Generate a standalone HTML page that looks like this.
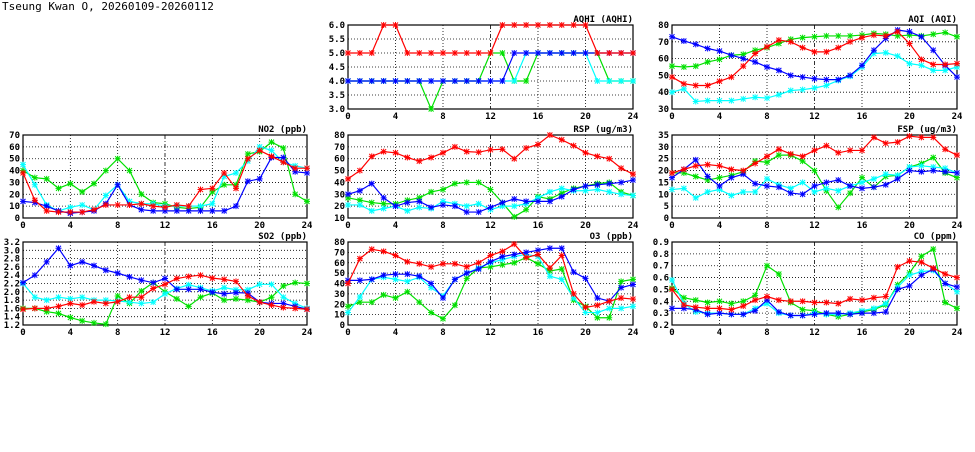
<!DOCTYPE html>
<html><head><meta charset="utf-8">
<style>
body{margin:0;background:#fff;width:975px;height:447px;overflow:hidden}
svg text{font-family:"DejaVu Sans Mono","Liberation Mono",monospace;font-weight:bold;font-size:9px;fill:#000}
</style></head><body>
<svg id="s" width="975" height="447" xmlns="http://www.w3.org/2000/svg">
<text x="2" y="10" style="font-size:11px;font-weight:normal">Tseung Kwan O, 20260109-20260112</text>
</svg>
<script>
const S=document.getElementById('s');let h='';
const cols=[[23,307],[348,633],[672,957]];
const rows=[[25,109],[135,218],[242,325]];
function P(c,r,title,ymin,ymax,step,dec,series){
 const [x0,x1]=cols[c],[y0,y1]=rows[r];
 const X=i=>x0+(x1-x0)*i/24, Y=v=>y1-(y1-y0)*(v-ymin)/(ymax-ymin);
 let n=Math.round((ymax-ymin)/step);
 for(let k=0;k<=n;k++){const v=ymin+k*step,y=Y(v);
  if(k>0&&k<n)h+=`<line x1="${x0}" x2="${x1}" y1="${y}" y2="${y}" stroke="#000" stroke-width="0.8" stroke-dasharray="1,2"/>`;
  h+=`<text x="${x0-3}" y="${y+3}" text-anchor="end">${v.toFixed(dec)}</text>`;}
 for(let i=0;i<=24;i+=4){const x=X(i);
  if(i>0&&i<24)h+=`<line x1="${x}" x2="${x}" y1="${y0}" y2="${y1}" stroke="#000" stroke-width="0.8" stroke-dasharray="${i==12?'4,2,1,2':'1,2'}"/>`;
  h+=`<text x="${x}" y="${y1+10}" text-anchor="middle">${i}</text>`;}
 h+=`<rect x="${x0}" y="${y0}" width="${x1-x0}" height="${y1-y0}" fill="none" stroke="#000" stroke-width="1.2"/>`;
 h+=`<text x="${x1}" y="${y0-3}" text-anchor="end">${title}</text>`;
 const col={g:'#00e000',c:'#00ffff',b:'#0000ff',r:'#ff0000'};
 for(const k of ['g','c','b','r']){const d=series[k];if(!d)continue;
  const pts=d.map((v,i)=>[X(i),Y(v)]);
  h+=`<polyline points="${pts.map(p=>p.join(',')).join(' ')}" fill="none" stroke="${col[k]}" stroke-width="1.2"/>`;
  for(const [x,y] of pts){h+=`<path d="M${x-2.5},${y-2.5}L${x+2.5},${y+2.5}M${x-2.5},${y+2.5}L${x+2.5},${y-2.5}M${x-3},${y}L${x+3},${y}M${x},${y-3}L${x},${y+3}" stroke="${col[k]}" stroke-width="1"/>`;}
 }
}
P(1,0,'AQHI (AQHI)',3,6,0.5,1,{
 g:[4,4,4,4,4,4,4,3,4,4,4,4,5,5,4,4,5,5,5,5,5,5,4,4,4],
 c:[4,4,4,4,4,4,4,4,4,4,4,4,4,4,4,5,5,5,5,5,5,4,4,4,4],
 b:[4,4,4,4,4,4,4,4,4,4,4,4,4,4,5,5,5,5,5,5,5,5,5,5,5],
 r:[5,5,5,6,6,5,5,5,5,5,5,5,5,6,6,6,6,6,6,6,6,5,5,5,5]});
P(2,0,'AQI (AQI)',30,80,10,0,{
 b:[73,70.5,68.5,66,64.5,62,60,58,55,53,50,49,48,47.5,47.5,50,56,65,72,77,76,73,65,56,49],
 r:[49,45,44,44,46.5,49,55.5,63,67,71,70,66.5,64,64,66.5,70,72.5,74,73.5,76,69,59.5,56.5,56.5,57],
 g:[55.5,55,55.5,58,59.5,62,62.5,65,66.5,69,71.5,72.5,73,73.5,73.5,73.5,74,75,74.5,73.5,74,73.5,74.5,75.5,73],
 c:[40,42,34.5,35,35,35,36,37,36.5,38.5,41,41.5,42.5,44,47,49.5,55,63,63.5,61.5,57,56,53,53,55]});
P(0,1,'NO2 (ppb)',0,70,10,0,{
 g:[40,34,33,25,29,22,29,40,50,40,20,13,12,9,8,9,22,28,28,54,56,64,59,20,14],
 c:[45,28,11,6,9,11,7,19,28,14,12,12,10,10,10,10,12,35,38,48,60,57,47,44,42],
 r:[38,15,6,5,5,5,7,11,11,11,12,10,9,11,10,24,25,38,25,50,57,52,47,42,42],
 b:[14,13,10,6,4,5,6,12,28,11,7,6,6,6,6,6,6,6,10,31,33,51,51,39,38]});
P(1,1,'RSP (ug/m3)',10,80,10,0,{
 r:[43,50,62,66,65,61,58,61,65,70,66,65.5,67.5,68,60,69,72,80,76,71,65,62,60,52,47],
 g:[27,25,23,22,22,25,27,32,34,39,40,40,34,23,11,17,28,26,31,35,37,39,40,32,29],
 b:[30,33,39,27,20,23,24,19,21,20,15,15,19,23,26,24,24,24,28,34,37,38,39,40,42],
 c:[21,21,16,18,20,16,19,18,24,22,20,22,17,20,20,22,27,32,35,33,33,34,32,30,29]});
P(2,1,'FSP (ug/m3)',0,35,5,0,{
 r:[19,20.5,22,22.5,22,20.5,20,23,26,29,27,26,28.5,30.5,27.5,28.5,28.5,34,31.5,32,34.5,34,34,29,26.5],
 g:[19,19,17.5,16,17,18,19.5,24,23.5,26.5,26.5,24,20,11.5,4.5,10.5,17,13,17.5,18,21.5,23,25.5,19,17],
 b:[17,20.5,24.5,17.5,13.5,17,18.5,14.5,13.5,13,10.5,10,13.5,15,16,13.5,12.5,13,14,16.5,20,19.5,20,19.5,19],
 c:[12,12.5,8.5,11,12,9.5,11,11,16.5,14,12.5,15,11,12.5,11.5,13.5,15,16.5,18.5,18,21.5,22,21.5,21,19]});
P(0,2,'SO2 (ppb)',1.2,3.2,0.2,1,{
 b:[2.22,2.4,2.72,3.05,2.63,2.72,2.63,2.52,2.45,2.36,2.28,2.22,2.32,2.06,2.06,2.06,1.99,1.95,1.98,1.97,1.75,1.72,1.72,1.65,1.58],
 c:[2.2,1.87,1.8,1.87,1.83,1.87,1.8,1.8,1.78,1.75,1.72,1.75,1.95,2.08,2.17,2.1,2.02,2.1,2.05,2.05,2.18,2.18,1.87,1.72,1.6],
 r:[1.58,1.6,1.6,1.65,1.72,1.68,1.76,1.72,1.76,1.87,1.87,2.08,2.18,2.32,2.37,2.4,2.33,2.3,2.25,1.9,1.75,1.68,1.62,1.6,1.58],
 g:[1.6,1.6,1.52,1.48,1.38,1.3,1.25,1.22,1.9,1.72,2.02,2.22,2.0,1.83,1.65,1.87,1.97,1.8,1.83,1.8,1.75,1.87,2.14,2.22,2.2]});
P(1,2,'O3 (ppb)',0,80,10,0,{
 r:[40,64,73,71,67,61,59,56,59,59,56,60,67,71,78,65,68,55,67,30,17,19,23,26,25],
 b:[43,43,44,48,49,49,47,40,26,44,50,54,61,66,68,70,72,74,74,51,45,26,23,36,39],
 c:[12,27,44,46,44,42,46,36,28,44,50,55,60,63,66,68,66,47,44,26,12,12,16,16,18],
 g:[18,22,22,29,26,32,22,12,6,19,45,55,56,58,60,65,59,52,54,24,18,7,7,42,44]});
P(2,2,'CO (ppm)',0.2,0.9,0.1,1,{
 r:[0.5,0.37,0.35,0.34,0.34,0.33,0.36,0.41,0.44,0.41,0.4,0.4,0.39,0.39,0.38,0.42,0.41,0.43,0.44,0.69,0.74,0.73,0.68,0.63,0.6],
 g:[0.51,0.43,0.41,0.39,0.4,0.38,0.4,0.45,0.7,0.63,0.39,0.33,0.32,0.29,0.27,0.29,0.31,0.33,0.37,0.54,0.64,0.78,0.84,0.39,0.34],
 b:[0.34,0.34,0.33,0.29,0.3,0.29,0.29,0.32,0.41,0.31,0.28,0.28,0.29,0.3,0.3,0.29,0.3,0.3,0.31,0.5,0.53,0.62,0.67,0.55,0.52],
 c:[0.58,0.38,0.31,0.3,0.3,0.29,0.29,0.34,0.38,0.3,0.28,0.28,0.3,0.29,0.29,0.3,0.32,0.34,0.38,0.52,0.62,0.65,0.66,0.55,0.48]});
S.insertAdjacentHTML('beforeend',h);
</script>
</body></html>
